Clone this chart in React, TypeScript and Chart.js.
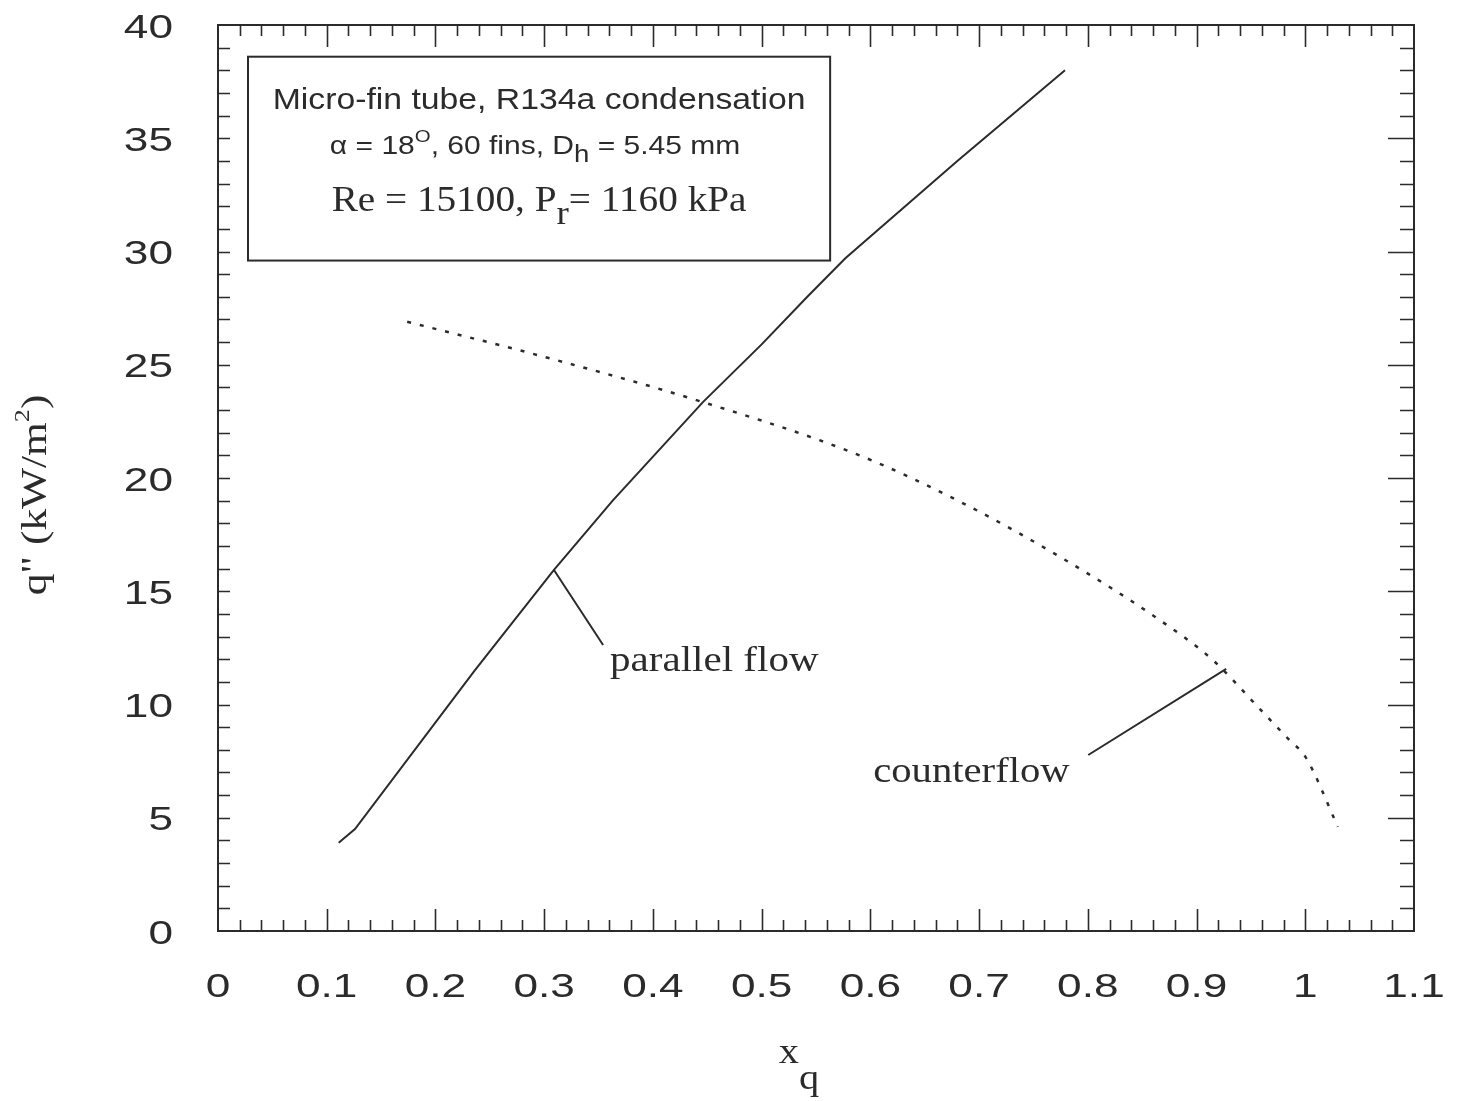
import React, { useEffect, useRef } from "react";
import { Chart, registerables } from "chart.js";
Chart.register(...registerables);

// ---------- data ----------
const xTickValues = [0, 0.1, 0.2, 0.3, 0.4, 0.5, 0.6, 0.7, 0.8, 0.9, 1, 1.1];
const xTickLabels = ["0", "0.1", "0.2", "0.3", "0.4", "0.5", "0.6", "0.7", "0.8", "0.9", "1", "1.1"];
const yTickValues = [0, 5, 10, 15, 20, 25, 30, 35, 40];
const yTickLabels = ["0", "5", "10", "15", "20", "25", "30", "35", "40"];

// parallel flow (solid)
const parallelX = [0.111, 0.126, 0.236, 0.309, 0.363, 0.446, 0.5, 0.542, 0.577, 0.68, 0.779];
const parallelY = [3.9, 4.5, 11.5, 15.94, 19.0, 23.35, 25.9, 28.0, 29.7, 34.0, 38.0];

// counterflow (dotted)
const counterX = [0.174, 0.296, 0.44, 0.59, 0.683, 0.775, 0.867, 0.915, 0.959, 0.986, 1.0, 1.03];
const counterY = [26.9, 25.4, 23.44, 21.0, 18.94, 16.5, 13.7, 11.96, 9.76, 8.4, 7.7, 4.6];

// annotation anchors (data units)
const parallelPointer = [[0.309, 15.94], [0.3542, 12.63]];
const parallelLabelAt = [0.3606, 11.48];
const counterPointer = [[0.8004, 7.77], [0.9273, 11.57]];
const counterLabelAt = [0.6026, 6.58];
const legendBox = { x0: 0.0276, x1: 0.563, y0: 38.6, y1: 29.6 };

const INK = "#2b2b2b";
const SANS = "'Liberation Sans', Arial, sans-serif";
const SERIF = "'Liberation Serif', 'Times New Roman', serif";

type Part = { t: string; font: string; dy?: number };

function richWidth(ctx: CanvasRenderingContext2D, parts: Part[]) {
  let w = 0;
  for (const p of parts) {
    ctx.font = p.font;
    w += ctx.measureText(p.t).width;
  }
  return w;
}

function drawRich(
  ctx: CanvasRenderingContext2D,
  parts: Part[],
  x: number,
  y: number,
  align: "left" | "center" | "right",
  sx: number,
  rot = 0
) {
  ctx.save();
  ctx.translate(x, y);
  if (rot) ctx.rotate(rot);
  ctx.scale(sx, 1);
  const w = richWidth(ctx, parts);
  let cx = align === "left" ? 0 : align === "center" ? -w / 2 : -w;
  ctx.textAlign = "left";
  ctx.textBaseline = "alphabetic";
  ctx.fillStyle = INK;
  for (const p of parts) {
    ctx.font = p.font;
    ctx.fillText(p.t, cx, p.dy || 0);
    cx += ctx.measureText(p.t).width;
  }
  ctx.restore();
}

const decorPlugin = {
  id: "decor",
  afterDraw(chart: any) {
    const ctx: CanvasRenderingContext2D = chart.ctx;
    const xs = chart.scales.x;
    const ys = chart.scales.y;
    const { left, right, top, bottom } = chart.chartArea;
    const X = (v: number) => xs.getPixelForValue(v);
    const Y = (v: number) => ys.getPixelForValue(v);

    ctx.save();
    ctx.strokeStyle = INK;
    ctx.lineWidth = 2;
    ctx.strokeRect(left, top, right - left, bottom - top);

    // ticks
    ctx.lineWidth = 1.6;
    ctx.beginPath();
    for (let i = 1; i < 55; i++) {
      const v = i * 0.02;
      const major = i % 5 === 0;
      const len = major ? 22 : 11;
      const px = Math.round(X(v)) + 0.5;
      ctx.moveTo(px, bottom);
      ctx.lineTo(px, bottom - len);
      ctx.moveTo(px, top);
      ctx.lineTo(px, top + len);
    }
    for (let i = 1; i < 40; i++) {
      const major = i % 5 === 0;
      const py = Math.round(Y(i)) + 0.5;
      ctx.moveTo(left, py);
      ctx.lineTo(left + 12, py);
      ctx.moveTo(right, py);
      ctx.lineTo(right - (major ? 26 : 14), py);
    }
    ctx.stroke();

    // tick labels
    const tickFont = `34px ${SANS}`;
    xTickValues.forEach((v, i) => {
      drawRich(ctx, [{ t: xTickLabels[i], font: tickFont }], X(v), bottom + 66, "center", 1.3);
    });
    yTickValues.forEach((v, i) => {
      drawRich(ctx, [{ t: yTickLabels[i], font: tickFont }], left - 45, Y(v) + 12.5, "right", 1.3);
    });

    // axis titles
    drawRich(
      ctx,
      [
        { t: "x", font: `36px ${SERIF}` },
        { t: "q", font: `36px ${SERIF}`, dy: 26 },
      ],
      (left + right) / 2 - 17,
      bottom + 132,
      "center",
      1.12
    );
    drawRich(
      ctx,
      [
        { t: 'q" (kW/m', font: `35px ${SERIF}` },
        { t: "2", font: `21px ${SERIF}`, dy: -17 },
        { t: ")", font: `35px ${SERIF}` },
      ],
      46,
      (top + bottom) / 2 + 17,
      "center",
      1.24,
      -Math.PI / 2
    );

    // legend box
    const bx0 = X(legendBox.x0);
    const bx1 = X(legendBox.x1);
    const by0 = Y(legendBox.y0);
    const by1 = Y(legendBox.y1);
    ctx.strokeStyle = INK;
    ctx.lineWidth = 2;
    ctx.strokeRect(bx0, by0, bx1 - bx0, by1 - by0);
    const bcx = (bx0 + bx1) / 2;
    drawRich(ctx, [{ t: "Micro-fin tube, R134a condensation", font: `30px ${SANS}` }], bcx, by0 + 52, "center", 1.125);
    drawRich(
      ctx,
      [
        { t: "\u03b1 = 18", font: `25px ${SANS}` },
        { t: "O", font: `17px ${SANS}`, dy: -12 },
        { t: ", 60 fins, D", font: `25px ${SANS}` },
        { t: "h", font: `23px ${SANS}`, dy: 8 },
        { t: " = 5.45 mm", font: `25px ${SANS}` },
      ],
      bcx - 4,
      by0 + 97,
      "center",
      1.2
    );
    drawRich(
      ctx,
      [
        { t: "Re = 15100, P", font: `36px ${SERIF}` },
        { t: "r", font: `34px ${SERIF}`, dy: 13 },
        { t: "= 1160 kPa", font: `36px ${SERIF}` },
      ],
      bcx,
      by0 + 154,
      "center",
      1.09
    );

    // annotations
    ctx.strokeStyle = INK;
    ctx.lineWidth = 2;
    ctx.beginPath();
    ctx.moveTo(X(parallelPointer[0][0]), Y(parallelPointer[0][1]));
    ctx.lineTo(X(parallelPointer[1][0]), Y(parallelPointer[1][1]));
    ctx.moveTo(X(counterPointer[0][0]), Y(counterPointer[0][1]));
    ctx.lineTo(X(counterPointer[1][0]), Y(counterPointer[1][1]));
    ctx.stroke();
    drawRich(ctx, [{ t: "parallel flow", font: `36px ${SERIF}` }], X(parallelLabelAt[0]), Y(parallelLabelAt[1]), "left", 1.14);
    drawRich(ctx, [{ t: "counterflow", font: `36px ${SERIF}` }], X(counterLabelAt[0]), Y(counterLabelAt[1]), "left", 1.13);

    ctx.restore();
  },
};

export default function App() {
  const ref = useRef<HTMLCanvasElement | null>(null);
  useEffect(() => {
    if (!ref.current) return;
    const chart = new Chart(ref.current, {
      type: "scatter",
      data: {
        datasets: [
          {
            label: "parallel flow",
            data: parallelX.map((x, i) => ({ x, y: parallelY[i] })),
            showLine: true,
            borderColor: INK,
            borderWidth: 2,
            pointRadius: 0,
            tension: 0,
          },
          {
            label: "counterflow",
            data: counterX.map((x, i) => ({ x, y: counterY[i] })),
            showLine: true,
            borderColor: INK,
            borderWidth: 2.5,
            borderDash: [4, 9],
            pointRadius: 0,
            tension: 0.3,
            cubicInterpolationMode: "monotone",
          },
        ],
      },
      options: {
        responsive: false,
        animation: false,
        devicePixelRatio: 1,
        layout: { padding: { left: 218, right: 44, top: 25, bottom: 170 } },
        plugins: { legend: { display: false }, tooltip: { enabled: false } },
        scales: {
          x: { type: "linear", min: 0, max: 1.1, display: false },
          y: { type: "linear", min: 0, max: 40, display: false },
        },
      },
      plugins: [decorPlugin],
    } as any);
    return () => chart.destroy();
  }, []);
  return (
    <div style={{ position: "fixed", left: 0, top: 0, width: 1458, height: 1101, background: "#fff" }}>
      <canvas ref={ref} width={1458} height={1101} />
    </div>
  );
}
